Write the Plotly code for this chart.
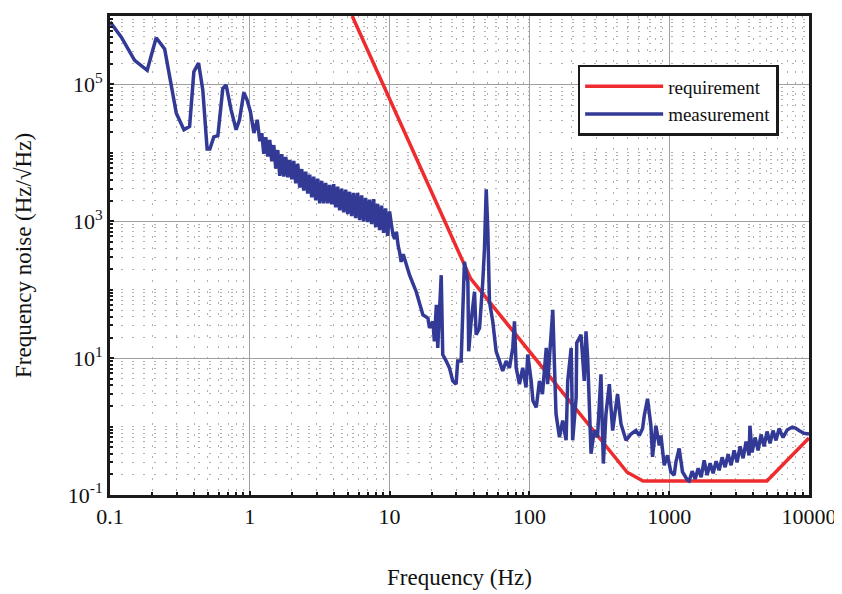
import plotly.graph_objects as go

# Requirement curve
req_freq = [5.4, 38, 500, 650, 5000, 10000]
req_noise = [1.0e6, 145, 0.215, 0.16, 0.16, 0.68]

meas_freq = [
    0.100, 0.1205, 0.150, 0.1845, 0.214, 0.246, 0.298, 0.338, 0.371, 0.398,
    0.430, 0.461, 0.495, 0.518, 0.553, 0.591, 0.641, 0.677, 0.735, 0.798,
    0.844, 0.906, 0.957, 1.01, 1.07, 1.13, 1.18,
    1.218, 1.259, 1.301, 1.345, 1.389, 1.436, 1.484, 1.534, 1.585, 1.638,
    1.693, 1.749, 1.808, 1.868, 1.931, 1.995, 2.062, 2.131, 2.202, 2.276,
    2.352, 2.430, 2.512, 2.596, 2.683, 2.772, 2.865, 2.961, 3.060, 3.162,
    3.268, 3.377, 3.490, 3.607, 3.728, 3.852, 3.981, 4.114, 4.252, 4.394,
    4.541, 4.693, 4.850, 5.012, 5.179, 5.353, 5.532, 5.717, 5.908, 6.105,
    6.310, 6.520, 6.738, 6.964, 7.197, 7.438, 7.686, 7.943, 8.209, 8.483,
    8.767, 9.060, 9.363, 9.676, 10.0,
    10.3, 10.6, 10.9, 11.2, 11.5, 11.8, 12.1, 12.5, 12.8, 13.9,
    15.5, 17.3, 18.8, 19.3, 20.4, 20.9, 21.6, 22.1, 23.4, 24.0,
    25.4, 26.8, 28.3, 29.9, 30.7, 32.5, 34.3, 36.3, 36.8, 38.3,
    40.5, 41.6, 44.0, 46.4, 47.7, 49.1, 50.4, 51.8, 54.7, 57.8,
    61.1, 64.4, 68.2, 72.0, 76.0, 78.2, 80.4, 84.9, 89.6, 94.6,
    97.3, 103, 106, 112, 118, 124, 132, 135, 147, 151,
    155, 164, 173, 183, 188, 199, 204, 216, 218, 234,
    247, 254, 261, 276, 291, 307, 325, 338, 353, 373,
    394, 427, 452, 491, 533, 578, 611, 645, 663, 700,
    740, 760, 803, 849, 873, 921, 972, 1028, 1086, 1117,
    1178, 1245, 1352,
    1389, 1460, 1534, 1612, 1693, 1778, 1868, 1963, 2062, 2166,
    2276, 2391, 2512, 2639, 2772, 2913, 3060, 3215, 3377, 3548,
    3728, 3780, 3916, 4114, 4322, 4541, 4770, 5012, 5265, 5532,
    5811, 6105, 6520, 7000, 7600, 8000, 8483, 9200, 10000,
]
meas_noise = [
    8.2e5, 4.9e5, 2.25e5, 1.61e5, 4.8e5, 3.3e5, 3.8e4, 2.18e4, 2.44e4, 1.53e5,
    2.06e5, 8.3e4, 1.14e4, 1.14e4, 1.71e4, 1.78e4, 8.7e4, 9.8e4, 4.25e4, 2.18e4,
    3.04e4, 7.6e4, 5.9e4, 4.0e4, 1.95e4, 3.04e4, 1.48e4,
    1.94e4, 9.7e3, 1.69e4, 8.8e3, 1.54e4, 7.5e3, 1.30e4, 5.9e3, 1.1e4, 4.6e3,
    9.6e3, 4.5e3, 8.7e3, 4.4e3, 7.9e3, 4.1e3, 7.6e3, 3.6e3, 6.9e3, 3.1e3,
    5.8e3, 2.8e3, 5.3e3, 2.55e3, 4.8e3, 2.24e3, 4.5e3, 2.03e3, 4.2e3, 1.83e3,
    3.9e3, 1.83e3, 3.65e3, 1.83e3, 3.4e3, 1.77e3, 3.5e3, 1.6e3, 3.2e3, 1.45e3,
    3.0e3, 1.35e3, 2.9e3, 1.27e3, 2.7e3, 1.19e3, 2.6e3, 1.11e3, 2.6e3, 1.04e3,
    2.4e3, 1.0e3, 2.2e3, 970, 2.07e3, 910, 2.1e3, 820, 1.8e3, 745,
    1.7e3, 675, 1.54e3, 610, 1.39e3,
    900, 621, 553, 700, 445, 350, 255, 330, 284, 163,
    93.5, 43, 38.4, 27.5, 34.4, 17.6, 60, 14.1, 163, 11.3,
    9.05, 7.2, 4.64, 4.16, 9.05, 9.05, 255, 131, 12.6, 34.4,
    93.5, 22, 27.5, 131, 397, 2940, 773, 67, 34.4, 12.6,
    9.05, 6.5, 9.05, 7.2, 14.1, 34.4, 7.2, 4.16, 7.2, 3.72,
    11.3, 4.64, 2.38, 1.91, 4.64, 2.98, 14.1, 4.16, 50.8, 8.2,
    1.54, 0.70, 1.22, 0.63, 4.64, 14.1, 0.63, 2.66, 16.7, 22,
    4.64, 24.6, 10.1, 0.40, 0.875, 0.70, 5.8, 0.288, 1.54, 4.16,
    0.875, 2.98, 1.09, 0.63, 0.78, 0.875, 0.74, 0.94, 1.44, 2.55,
    1.03, 0.36, 1.03, 0.53, 0.74, 0.272, 0.38, 0.218, 0.195, 0.304,
    0.48, 0.218, 0.165,
    0.160, 0.223, 0.171, 0.246, 0.182, 0.322, 0.195, 0.291, 0.208, 0.311,
    0.230, 0.356, 0.255, 0.393, 0.272, 0.449, 0.301, 0.513, 0.344, 0.606,
    0.380, 1.03, 0.420, 0.693, 0.449, 0.766, 0.513, 0.847, 0.567, 0.875,
    0.627, 0.935, 0.693, 0.90, 0.98, 0.95, 0.875, 0.80, 0.78,
]

x_tickvals = [0.1, 1, 10, 100, 1000, 10000]
x_ticktext = ["0.1", "1", "10", "100", "1000", "10000"]
y_tickvals = [0.1, 10, 1000, 1e5]
y_ticktext = ["10<sup>-1</sup>", "10<sup>1</sup>", "10<sup>3</sup>", "10<sup>5</sup>"]

FONT = "Liberation Serif"

fig = go.Figure()
fig.add_trace(go.Scatter(x=req_freq, y=req_noise, mode="lines", name="requirement",
                         line=dict(color="#EE2B2E", width=3.5)))
fig.add_trace(go.Scatter(x=meas_freq, y=meas_noise, mode="lines", name="measurement",
                         line=dict(color="#323A96", width=3.5, simplify=False)))

axis_common = dict(
    showline=True, linecolor="#1a1a1a", linewidth=3, mirror=True,
    ticks="inside", ticklen=4, tickcolor="#1a1a1a", tickwidth=2,
    showgrid=True, gridcolor="#a0a0a0", gridwidth=1,
    zeroline=False,
    tickfont=dict(family=FONT, size=22, color="#111"),
    minor=dict(dtick="D1", ticks="inside", ticklen=3, tickcolor="#1a1a1a", tickwidth=2,
               showgrid=True, gridcolor="#b0b0b0", griddash="2px,9px", gridwidth=1),
)

fig.update_xaxes(type="log", range=[-1, 4], tickvals=x_tickvals, ticktext=x_ticktext,
                 title=dict(text="Frequency (Hz)", font=dict(family=FONT, size=23, color="#111"),
                            standoff=41),
                 **axis_common)
fig.update_yaxes(type="log", range=[-1, 6], tickvals=y_tickvals, ticktext=y_ticktext,
                 title=dict(text="Frequency noise (Hz/√Hz)", font=dict(family=FONT, size=23, color="#111"),
                            standoff=30),
                 **axis_common)

fig.update_layout(
    width=834, height=586,
    margin=dict(l=102, r=32, t=5, b=99),
    paper_bgcolor="white", plot_bgcolor="white",
    font=dict(family=FONT, color="#111"),
    showlegend=True,
    legend=dict(x=0.669, y=0.898, xanchor="left", yanchor="top",
                bgcolor="white", bordercolor="#1a1a1a", borderwidth=2.5,
                font=dict(family=FONT, size=19, color="#111"),
                itemwidth=78, tracegroupgap=0),
)

fig.write_html("out.html")
